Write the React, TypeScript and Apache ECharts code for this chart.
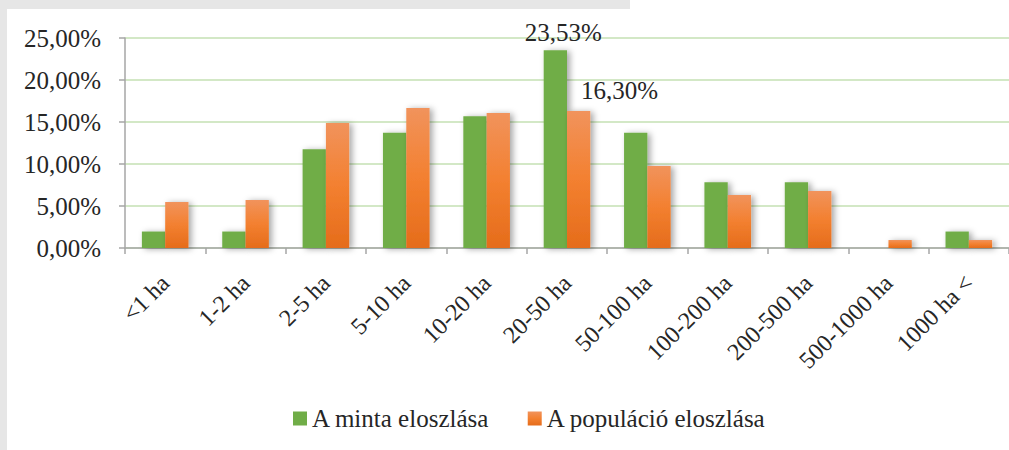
import React, { useEffect, useRef } from "react";
import * as echarts from "echarts";

const categories = ["<1 ha", "1-2 ha", "2-5 ha", "5-10 ha", "10-20 ha", "20-50 ha", "50-100 ha", "100-200 ha", "200-500 ha", "500-1000 ha", "1000 ha <"];
const sampleValues = [1.96, 1.96, 11.76, 13.73, 15.69, 23.53, 13.73, 7.84, 7.84, 0, 1.96];
const populationValues = [5.48, 5.71, 14.88, 16.67, 16.07, 16.3, 9.76, 6.31, 6.79, 0.95, 0.95];
const yTicks = [0, 5, 10, 15, 20, 25];
const seriesNames = ["A minta eloszlása", "A populáció eloszlása"];
const labeledIndex = 5;

const FONT = "Liberation Serif";
const fmt = (v: number) => v.toFixed(2).replace(".", ",") + "%";

export default function App() {
  const ref = useRef<HTMLDivElement>(null);
  useEffect(() => {
    if (!ref.current) return;
    const chart = echarts.init(ref.current, null, { renderer: "svg" });
    const orangeGrad = new echarts.graphic.LinearGradient(0, 0, 0, 1, [
      { offset: 0, color: "#f1935c" },
      { offset: 0.5, color: "#f38030" },
      { offset: 1, color: "#e56c1b" },
    ]);
    const shadow = { shadowBlur: 6, shadowOffsetX: 3, shadowOffsetY: 1, shadowColor: "rgba(0,0,0,0.35)" };
    chart.setOption({
      animation: false,
      backgroundColor: "#ffffff",
      textStyle: { fontFamily: FONT },
      graphic: [
        { type: "rect", left: 0, top: 0, shape: { width: 630, height: 9 }, style: { fill: "#e6e6e6" }, silent: true },
        { type: "rect", left: 0, top: 0, shape: { width: 7, height: 450 }, style: { fill: "#e6e6e6" }, silent: true },
      ],
      grid: { left: 125, top: 38, width: 894.5, height: 210 },
      legend: {
        left: 288,
        top: 401,
        itemWidth: 14,
        itemHeight: 14,
        itemGap: 38,
        icon: "rect",
        textStyle: { fontFamily: FONT, fontSize: 25, color: "#262626", padding: [0, 0, 0, 0] },
        data: seriesNames,
      },
      xAxis: {
        type: "category",
        data: categories,
        axisLine: { lineStyle: { color: "#a6a6a6", width: 1.5 } },
        axisTick: { show: true, length: 6, lineStyle: { color: "#a6a6a6", width: 1.5 } },
        axisLabel: { rotate: 45, margin: 31, fontFamily: FONT, fontSize: 24, color: "#262626", interval: 0 },
      },
      yAxis: {
        type: "value",
        min: yTicks[0],
        max: yTicks[yTicks.length - 1],
        interval: yTicks[1] - yTicks[0],
        axisLine: { show: true, lineStyle: { color: "#a6a6a6", width: 1.5 } },
        axisTick: { show: true, length: 6, inside: false, lineStyle: { color: "#a6a6a6", width: 1.5 } },
        splitLine: { lineStyle: { color: "#c5e0b3", width: 1.5 } },
        axisLabel: { margin: 24, fontFamily: FONT, fontSize: 25, color: "#262626", formatter: (v: number) => fmt(v) },
      },
      series: [
        {
          name: seriesNames[0],
          type: "bar",
          barGap: "0%",
          barCategoryGap: "42%",
          itemStyle: { color: "#70ad47", ...shadow },
          data: sampleValues.map((v, i) =>
            i === labeledIndex
              ? { value: v, label: { show: true, position: "top", offset: [8, 0], fontFamily: FONT, fontSize: 25, color: "#262626", formatter: () => fmt(v) } }
              : v
          ),
        },
        {
          name: seriesNames[1],
          type: "bar",
          itemStyle: { color: orangeGrad, ...shadow },
          data: populationValues.map((v, i) =>
            i === labeledIndex
              ? { value: v, label: { show: true, position: "top", offset: [41, -3], fontFamily: FONT, fontSize: 25, color: "#262626", formatter: () => fmt(v) } }
              : v
          ),
        },
      ],
    });
    return () => chart.dispose();
  }, []);
  return <div ref={ref} style={{ position: "absolute", left: 0, top: 0, width: 1009, height: 450 }} />;
}
